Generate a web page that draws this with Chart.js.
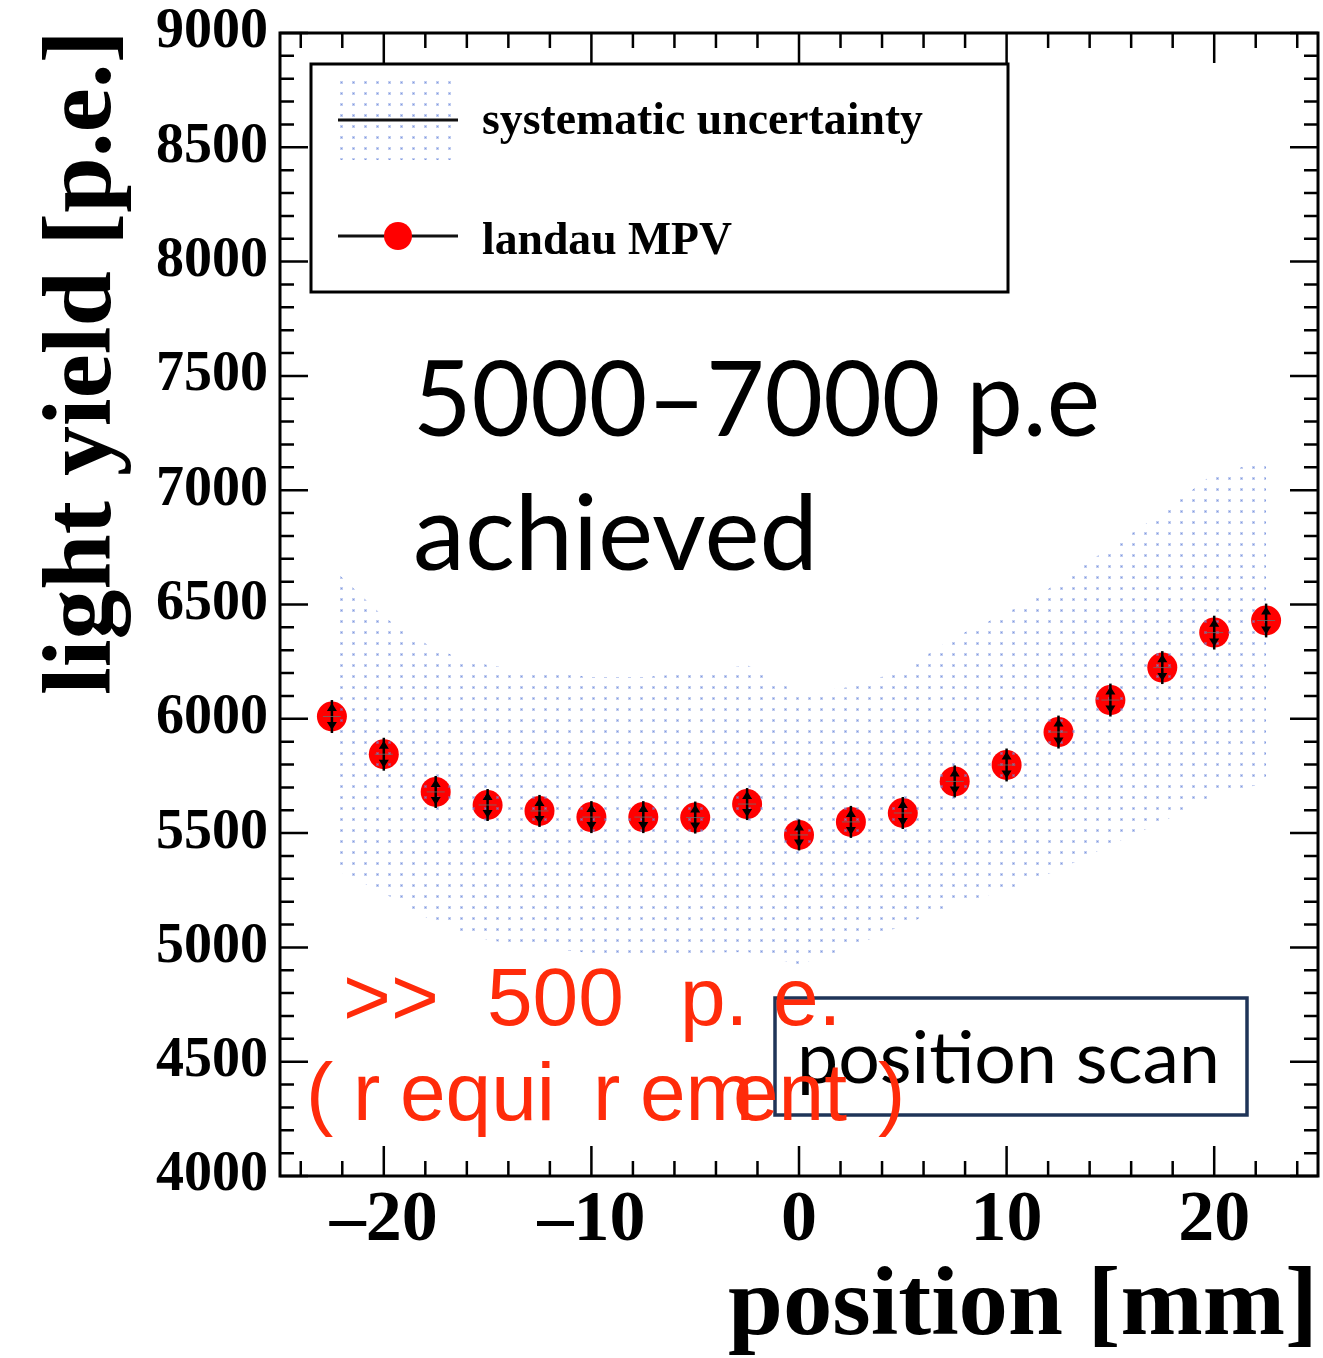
<!DOCTYPE html>
<html>
<head>
<meta charset="utf-8">
<script src="https://cdn.jsdelivr.net/npm/chart.js@4.4.1/dist/chart.umd.min.js"></script>
<style>
  body { margin: 0; background: #fff; }
  canvas { display: block; }
</style>
</head>
<body>
<canvas id="c" width="1323" height="1358"></canvas>
<script>
// values
const positions = [-22.5, -20, -17.5, -15, -12.5, -10, -7.5, -5, -2.5, 0, 2.5, 5, 7.5, 10, 12.5, 15, 17.5, 20, 22.5]
const lightYield = [6010, 5845, 5680, 5623, 5597, 5570, 5570, 5568, 5627, 5492, 5549, 5588, 5726, 5798, 5942, 6082, 6224, 6377, 6430]
const statErr = [72, 72, 70, 70, 70, 70, 70, 70, 70, 68, 70, 70, 70, 72, 72, 72, 72, 74, 74]
const sysHigh = [6660, 6445, 6301, 6235, 6205, 6183, 6183, 6200, 6235, 6113, 6139, 6213, 6358, 6463, 6594, 6752, 6900, 7075, 7123]
const sysLow = [5347, 5238, 5107, 5032, 4997, 4975, 4975, 4975, 4980, 4925, 5000, 5098, 5185, 5251, 5339, 5448, 5549, 5667, 5719]
const xTicks = [-20, -10, 0, 10, 20]
const yTicks = [4000, 4500, 5000, 5500, 6000, 6500, 7000, 7500, 8000, 8500, 9000]

const SERIF = "'Liberation Serif', 'Times New Roman', serif"
const SANS = "Lato, 'Open Sans', sans-serif"

// dotted fill like the ROOT fill style
function dotPattern() {
    const t = document.createElement("canvas")
    t.width = 12; t.height = 11
    const g = t.getContext("2d")
    g.fillStyle = "rgba(110,138,220,0.42)"
    g.fillRect(4, 4, 3, 3)
    g.fillStyle = "rgba(110,138,220,0.75)"
    g.fillRect(5, 5, 1, 1)
    return g.createPattern(t, "repeat")
}

function fitText(ctx, text, x, y, w) {
    const m = ctx.measureText(text).width
    ctx.save()
    ctx.translate(x, y)
    ctx.scale(w / m, 1)
    ctx.textAlign = "left"
    ctx.fillText(text, 0, 0)
    ctx.restore()
}

const ctx = document.getElementById("c").getContext("2d")
const pattern = dotPattern()

const errorBars = {
    id: "errorBars",
    afterDatasetsDraw(chart) {
        const c = chart.ctx
        const xs = chart.scales.x, ys = chart.scales.y
        c.save()
        c.fillStyle = "#000"
        positions.forEach((p, i) => {
            const px = xs.getPixelForValue(p)
            const top = ys.getPixelForValue(lightYield[i] + statErr[i])
            const bot = ys.getPixelForValue(lightYield[i] - statErr[i])
            const mid = ys.getPixelForValue(lightYield[i])
            c.strokeStyle = "#000"
            c.lineWidth = 2.5
            c.beginPath()
            c.moveTo(px, top); c.lineTo(px, bot)
            c.stroke()
            // arrow heads
            c.beginPath()
            c.moveTo(px, top + 3); c.lineTo(px - 5, top + 11); c.lineTo(px + 5, top + 11); c.closePath()
            c.moveTo(px, bot - 3); c.lineTo(px - 5, bot - 11); c.lineTo(px + 5, bot - 11); c.closePath()
            c.fill()
            c.lineWidth = 1
            c.strokeStyle = "rgba(110,110,110,0.8)"
            c.beginPath()
            c.moveTo(px - 9, mid); c.lineTo(px + 9, mid)
            c.stroke()
        })
        c.restore()
    }
}

const decorations = {
    id: "decorations",
    afterDraw(chart) {
        const c = chart.ctx
        const a = chart.chartArea
        const xs = chart.scales.x, ys = chart.scales.y
        c.save()
        // frame
        c.strokeStyle = "#000"
        c.lineWidth = 3
        c.strokeRect(a.left, a.top, a.right - a.left, a.bottom - a.top)
        // inward ticks on all sides
        c.lineWidth = 2.5
        c.beginPath()
        for (let v = 4000; v <= 9000; v += 100) {
            const py = ys.getPixelForValue(v)
            const len = v % 500 === 0 ? 28 : 14
            c.moveTo(a.left, py); c.lineTo(a.left + len, py)
            c.moveTo(a.right, py); c.lineTo(a.right - len, py)
        }
        for (let v = -24; v <= 24; v += 2) {
            const px = xs.getPixelForValue(v)
            const len = v % 10 === 0 ? 30 : 15
            c.moveTo(px, a.bottom); c.lineTo(px, a.bottom - len)
            c.moveTo(px, a.top); c.lineTo(px, a.top + len)
        }
        c.stroke()

        // legend
        c.lineWidth = 3
        c.fillStyle = "#fff"
        c.fillRect(311, 64, 697, 228)
        c.strokeRect(311, 64, 697, 228)
        c.fillStyle = pattern
        c.fillRect(336, 80, 122, 80)
        c.strokeStyle = "#111"
        c.beginPath()
        c.moveTo(338, 120); c.lineTo(458, 120)
        c.moveTo(338, 236); c.lineTo(458, 236)
        c.stroke()
        c.fillStyle = "#ff0000"
        c.beginPath()
        c.arc(398, 236, 14, 0, Math.PI * 2)
        c.fill()
        c.fillStyle = "#000"
        c.textBaseline = "alphabetic"
        c.font = "bold 46px " + SERIF
        fitText(c, "systematic uncertainty", 482, 134, 441)
        fitText(c, "landau MPV", 482, 254, 250)

        // axis titles
        c.font = "bold 98px " + SERIF
        fitText(c, "position [mm]", 728, 1334, 590)
        c.save()
        c.translate(110, 695)
        c.rotate(-Math.PI / 2)
        fitText(c, "light yield [p.e.]", 0, 0, 665)
        c.restore()

        // annotations
        c.font = "104px " + SANS
        fitText(c, "5000\u20137000 p.e", 413, 436, 687)
        fitText(c, "achieved", 413, 570, 405)

        c.strokeStyle = "#1f3458"
        c.lineWidth = 3.5
        c.strokeRect(775, 998, 472, 117)
        c.font = "72px " + SANS
        fitText(c, "position scan", 797, 1083, 423)

        // red note, pieces placed as in the pasted slide text
        c.fillStyle = "#ff2b0a"
        c.font = "82px 'Liberation Sans', Arial, sans-serif"
        c.textAlign = "left"
        const line1 = [[">>", 343], ["500", 487], ["p.", 680], ["e.", 773]]
        const line2 = [["(", 306], ["r", 353], ["equi", 400], ["r", 593], ["em", 640], ["ent", 733], [")", 878]]
        line1.forEach(([t, x]) => c.fillText(t, x, 1025))
        line2.forEach(([t, x]) => c.fillText(t, x, 1120))
        c.restore()
    }
}

new Chart(ctx, {
    type: "line",
    data: {
        datasets: [
            {
                label: "sys low",
                data: positions.map((p, i) => ({ x: p, y: sysLow[i] })),
                borderWidth: 0,
                pointRadius: 0,
                fill: false
            },
            {
                label: "systematic uncertainty",
                data: positions.map((p, i) => ({ x: p, y: sysHigh[i] })),
                borderWidth: 0,
                pointRadius: 0,
                backgroundColor: pattern,
                fill: "-1"
            },
            {
                label: "landau MPV",
                data: positions.map((p, i) => ({ x: p, y: lightYield[i] })),
                showLine: false,
                pointRadius: 15,
                pointBackgroundColor: "#ff0000",
                pointBorderWidth: 0,
                fill: false
            }
        ]
    },
    options: {
        responsive: false,
        animation: false,
        layout: { autoPadding: false, padding: { top: 33, right: 5, left: 0, bottom: 0 } },
        plugins: {
            legend: { display: false },
            tooltip: { enabled: false }
        },
        scales: {
            x: {
                type: "linear",
                min: -25,
                max: 25,
                afterBuildTicks: s => { s.ticks = xTicks.map(v => ({ value: v })) },
                afterFit: s => { s.height = 182; s.paddingLeft = 0; s.paddingRight = 0 },
                grid: { display: false, drawTicks: false },
                border: { display: false },
                ticks: {
                    color: "#000",
                    padding: 2,
                    maxRotation: 0,
                    font: { family: SERIF, weight: "bold", size: 72 },
                    callback: v => (v < 0 ? "\u2013" + Math.abs(v) : String(v))
                }
            },
            y: {
                min: 4000,
                max: 9000,
                afterBuildTicks: s => { s.ticks = yTicks.map(v => ({ value: v })) },
                afterFit: s => { s.width = 280; s.paddingTop = 0; s.paddingBottom = 0 },
                grid: { display: false, drawTicks: false },
                border: { display: false },
                ticks: {
                    color: "#000",
                    padding: 12,
                    font: { family: SERIF, weight: "bold", size: 56 },
                    callback: v => String(v)
                }
            }
        }
    },
    plugins: [errorBars, decorations]
})
</script>
</body>
</html>
